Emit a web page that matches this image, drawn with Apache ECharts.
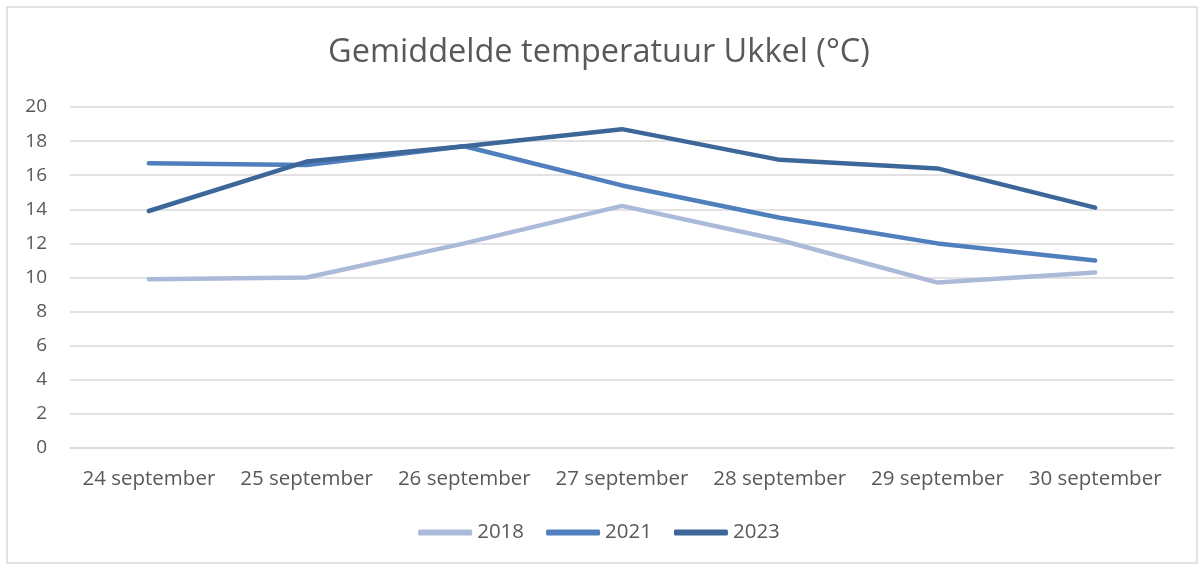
<!DOCTYPE html>
<html>
<head>
<meta charset="utf-8">
<script src="https://cdn.jsdelivr.net/npm/echarts@6/dist/echarts.min.js"></script>
<style>
  html, body { margin: 0; padding: 0; background: #fff; }
  #chart { width: 1198px; height: 564px; }
</style>
</head>
<body>
<div id="chart"></div>
<script>
// Chart data
const categories = ['24 september', '25 september', '26 september', '27 september', '28 september', '29 september', '30 september'];
const temps2018 = [9.9, 10.0, 12.0, 14.2, 12.2, 9.7, 10.3];
const temps2021 = [16.7, 16.6, 17.7, 15.4, 13.5, 12.0, 11.0];
const temps2023 = [13.9, 16.8, 17.7, 18.7, 16.9, 16.4, 14.1];
const seriesNames = ['2018', '2021', '2023'];
const seriesColors = ['#abbad8', '#4f80bd', '#3d6699'];

const fontFamily = '"Open Sans", "Liberation Sans", sans-serif';

const chart = echarts.init(document.getElementById('chart'));

function makeLine(name, data, color) {
    return {
        name: name,
        type: 'line',
        data: data,
        symbol: 'none',
        lineStyle: { width: 4.5, color: color, cap: 'round', join: 'round' },
        itemStyle: { color: color }
    };
}

chart.setOption({
    animation: false,
    backgroundColor: '#fff',
    graphic: [{
        type: 'rect',
        shape: { x: 7, y: 7, width: 1190, height: 556 },
        style: { fill: 'none', stroke: '#d9d9d9', lineWidth: 1.5 },
        silent: true
    }],
    title: {
        text: 'Gemiddelde temperatuur Ukkel (°C)',
        left: 'center',
        top: 31,
        textStyle: { color: '#595959', fontSize: 32.5, fontWeight: 'normal', fontFamily: fontFamily }
    },
    legend: {
        bottom: 16,
        left: 'center',
        itemWidth: 54,
        itemHeight: 6,
        itemGap: 22,
        icon: 'roundRect',
        textStyle: { color: '#595959', fontSize: 20.5, fontFamily: fontFamily },
        data: seriesNames
    },
    grid: { left: 70, right: 24, top: 107, bottom: 116 },
    xAxis: {
        type: 'category',
        data: categories,
        boundaryGap: true,
        axisLine: { show: true, lineStyle: { color: '#d9d9d9', width: 1.5 } },
        axisTick: { show: false },
        axisLabel: { interval: 0, color: '#595959', fontSize: 20.5, margin: 21, fontFamily: fontFamily }
    },
    yAxis: {
        type: 'value',
        min: 0,
        max: 20,
        interval: 2,
        axisLine: { show: false },
        axisTick: { show: false },
        axisLabel: { color: '#595959', fontSize: 19, margin: 23, fontFamily: fontFamily },
        splitLine: { lineStyle: { color: '#d9d9d9', width: 1.5 } }
    },
    series: [
        makeLine(seriesNames[0], temps2018, seriesColors[0]),
        makeLine(seriesNames[1], temps2021, seriesColors[1]),
        makeLine(seriesNames[2], temps2023, seriesColors[2])
    ]
});
</script>
</body>
</html>
